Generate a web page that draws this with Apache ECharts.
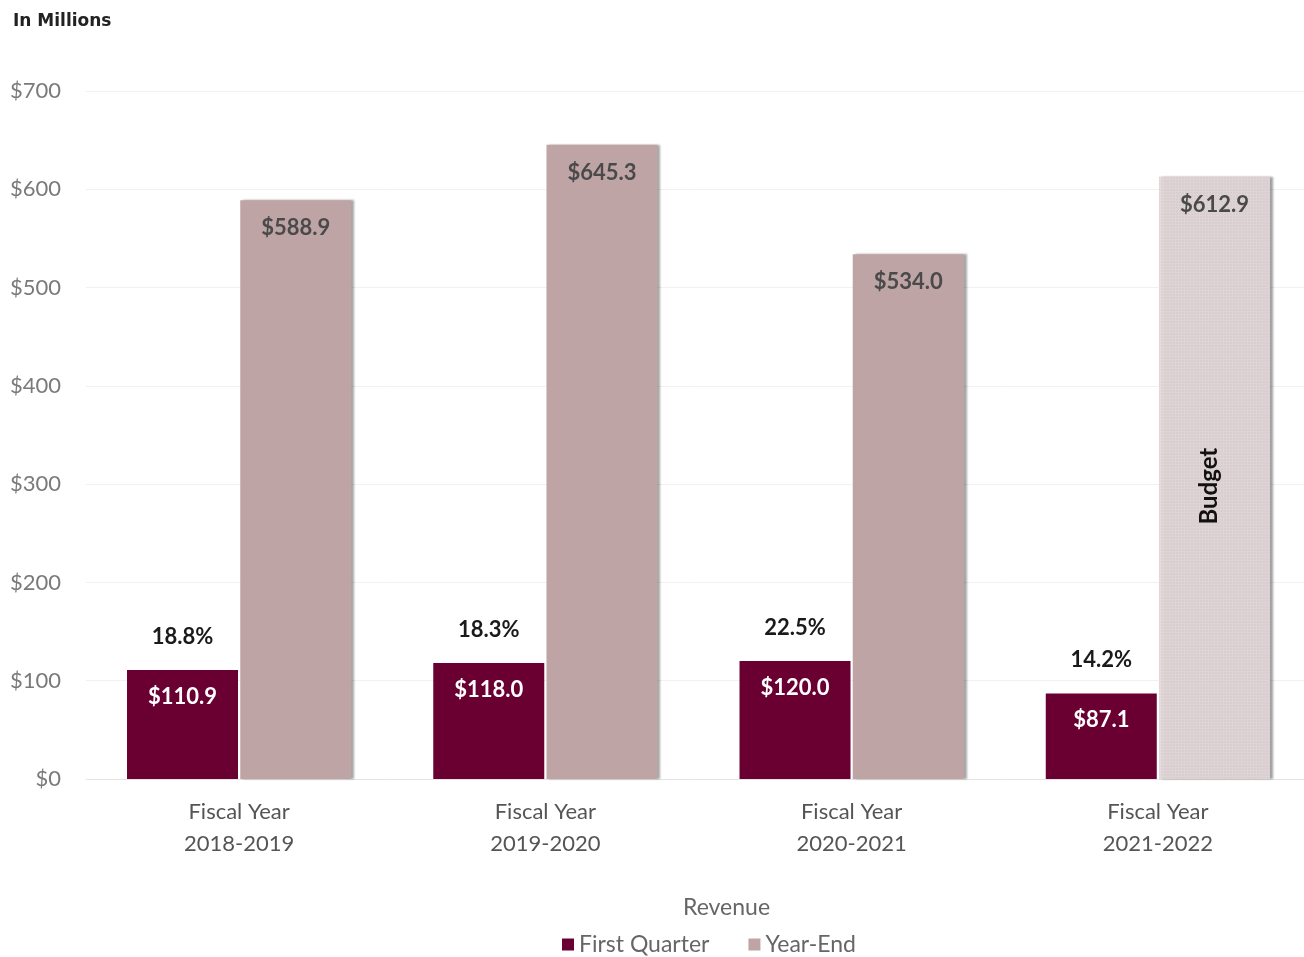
<!DOCTYPE html>
<html>
<head>
<meta charset="utf-8">
<script src="https://cdn.jsdelivr.net/npm/echarts@6/dist/echarts.min.js"></script>
<style>
  html, body { margin: 0; padding: 0; background: #fff; }
  #main { width: 1304px; height: 957px; }
</style>
</head>
<body>
<div id="main"></div>
<script>
// data (millions of dollars)
const categories = ['Fiscal Year\n2018-2019', 'Fiscal Year\n2019-2020', 'Fiscal Year\n2020-2021', 'Fiscal Year\n2021-2022']
const firstQuarter = [110.9, 118.0, 120.0, 87.1]
const yearEnd = [588.9, 645.3, 534.0, 612.9]
const pctOfYear = ['18.8%', '18.3%', '22.5%', '14.2%']
const yTicks = [0, 100, 200, 300, 400, 500, 600, 700]

const font = 'Lato'
const maroon = '#6A0032'
const rose = '#BFA4A6'

const chart = echarts.init(document.getElementById('main'))

chart.setOption({
    animation: false,
    textStyle: { fontFamily: font },
    title: [{
        text: 'In Millions',
        left: 8, top: 8,
        textStyle: { fontSize: 17, fontWeight: 'bold', color: '#222', fontFamily: 'DejaVu Sans' }
    }, {
        text: 'Revenue',
        left: 678, top: 891,
        textStyle: { fontSize: 23, fontWeight: 'normal', color: '#666', fontFamily: font }
    }],
    legend: {
        top: 928,
        left: 557,
        itemWidth: 12, itemHeight: 12,
        itemGap: 39,
        icon: 'rect',
        textStyle: { fontSize: 23, color: '#666', fontFamily: font },
        data: ['First Quarter', 'Year-End']
    },
    grid: { left: 86, top: 91, width: 1225, height: 688, outerBoundsMode: 'none' },
    xAxis: {
        type: 'category',
        data: categories,
        axisTick: { show: false },
        axisLine: { lineStyle: { color: '#e4e4e4' } },
        axisLabel: { fontSize: 22, color: '#555', lineHeight: 32, margin: 17 }
    },
    yAxis: {
        type: 'value',
        min: yTicks[0], max: yTicks[yTicks.length - 1], interval: 100,
        axisLabel: { fontSize: 22, color: '#7a7a7a', margin: 25, formatter: v => '$' + v },
        splitLine: { lineStyle: { color: '#f1f1f1' } },
        axisLine: { show: false }
    },
    series: [{
        name: 'First Quarter',
        type: 'bar',
        barWidth: 111,
        barGap: '2%',
        itemStyle: { color: maroon },
        data: firstQuarter.map((v, i) => ({
            value: v,
            label: {
                show: true,
                position: ['50%', -48],
                align: 'center',
                verticalAlign: 'top',
                formatter: '{p|' + pctOfYear[i] + '}\n{s|}\n{v|$' + v.toFixed(1) + '}',
                rich: {
                    p: { fontSize: 22, fontWeight: 'bold', color: '#1a1a1a', lineHeight: 30, fontFamily: font },
                    s: { lineHeight: 30 },
                    v: { fontSize: 22, fontWeight: 'bold', color: '#fff', lineHeight: 30, fontFamily: font }
                }
            }
        }))
    }, {
        name: 'Year-End',
        type: 'bar',
        barWidth: 111,
        itemStyle: {
            color: rose,
            shadowColor: 'rgba(0,0,0,0.35)',
            shadowOffsetX: 3,
            shadowBlur: 2
        },
        label: {
            show: true,
            position: 'insideTop',
            distance: 17,
            fontSize: 22,
            fontWeight: 'bold',
            color: '#4a4a4a',
            formatter: p => '$' + p.value.toFixed(1)
        },
        data: yearEnd.map((v, i) => i === 3 ? {
            value: v,
            itemStyle: {
                color: '#E6DCDE',
                decal: {
                    symbol: 'rect',
                    symbolSize: 0.6,
                    dashArrayX: [2, 1],
                    dashArrayY: [2, 1],
                    color: 'rgba(150,130,135,0.25)'
                }
            }
        } : v),
        markPoint: {
            symbol: 'circle',
            symbolSize: 0,
            itemStyle: { color: 'transparent' },
            data: [{
                coord: [3, 300],
                label: {
                    show: true,
                    position: 'inside',
                    formatter: 'Budget',
                    rotate: 90,
                    fontSize: 24,
                    fontWeight: 'bold',
                    color: '#111',
                    offset: [-2, -5]
                }
            }]
        }
    }]
})
</script>
</body>
</html>
